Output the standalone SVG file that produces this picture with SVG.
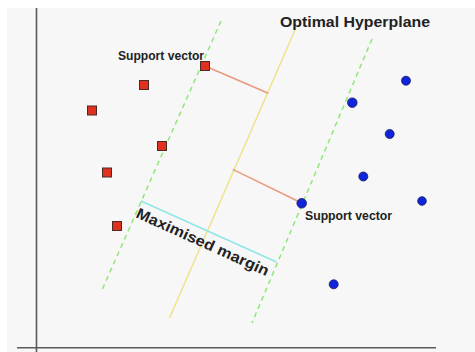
<svg xmlns="http://www.w3.org/2000/svg" width="475" height="352" viewBox="0 0 475 352">
  <style>
    .axis { stroke: #5a5a5a; stroke-width: 1.6; fill: none; }
    .margin { stroke: #90e87a; stroke-width: 1.5; stroke-dasharray: 5 4; fill: none; }
    .plane { stroke: #efe38a; stroke-width: 1.5; fill: none; }
    .dist { stroke: #e99a7e; stroke-width: 1.5; fill: none; }
    .width { stroke: #8fe6e6; stroke-width: 1.5; fill: none; }
    .sq { fill: #e0301e; stroke: #4a2a24; stroke-width: 1; }
    .dot { fill: #1024dc; stroke: #1a1a60; stroke-width: 0.8; }
    .lbl { font-family: "Liberation Sans", Arial, sans-serif; font-weight: bold; fill: #222; }
  </style>

  <!-- canvas -->
  <rect x="0" y="0" width="475" height="352" fill="#ffffff"/>
  <rect x="7" y="8" width="468" height="344" fill="#f7f7f7"/>

  <!-- axes -->
  <g id="axes">
    <line class="axis" x1="36.5" y1="8" x2="36.5" y2="352"/>
    <line class="axis" x1="17" y1="347.7" x2="436" y2="347.7"/>
  </g>

  <!-- hyperplane, margins and distance markers -->
  <g id="connectors">
    <line class="margin" x1="221" y1="21" x2="102" y2="290"/>
    <line class="margin" x1="372" y1="39" x2="252" y2="323"/>
    <line class="plane" x1="295" y1="30" x2="169.5" y2="318"/>
    <line class="dist" x1="205" y1="66" x2="268.3" y2="93.3"/>
    <line class="dist" x1="232.7" y1="169.3" x2="301.7" y2="203"/>
    <line class="width" x1="141" y1="201" x2="276.5" y2="262"/>
  </g>

  <!-- class A samples -->
  <g id="class-a">
    <rect class="sq" x="200.5" y="61.5" width="9" height="9"/>
    <rect class="sq" x="139.5" y="80.5" width="9" height="9"/>
    <rect class="sq" x="87.5" y="106" width="9" height="9"/>
    <rect class="sq" x="157.5" y="141.5" width="9" height="9"/>
    <rect class="sq" x="102.5" y="168" width="9" height="9"/>
    <rect class="sq" x="112.5" y="221.5" width="9" height="9"/>
  </g>

  <!-- class B samples -->
  <g id="class-b">
    <circle class="dot" cx="406" cy="80.7" r="4.5"/>
    <circle class="dot" cx="352.3" cy="102.7" r="4.8"/>
    <circle class="dot" cx="389.7" cy="134" r="4.5"/>
    <circle class="dot" cx="363.3" cy="176.5" r="4.5"/>
    <circle class="dot" cx="422" cy="201" r="4.3"/>
    <circle class="dot" cx="301.7" cy="203.3" r="4.8"/>
    <circle class="dot" cx="333.7" cy="284.3" r="4.5"/>
  </g>

  <!-- labels -->
  <g id="labels">
    <text class="lbl" x="280" y="27" font-size="15.5" textLength="150" lengthAdjust="spacingAndGlyphs">Optimal Hyperplane</text>
    <text class="lbl" x="118" y="59.5" font-size="12" textLength="86" lengthAdjust="spacingAndGlyphs">Support vector</text>
    <text class="lbl" x="305" y="220" font-size="12" textLength="87" lengthAdjust="spacingAndGlyphs">Support vector</text>
    <text class="lbl" x="0" y="0" font-size="15" textLength="144" lengthAdjust="spacingAndGlyphs" transform="translate(135 217) rotate(24.3)">Maximised margin</text>
  </g>
</svg>
